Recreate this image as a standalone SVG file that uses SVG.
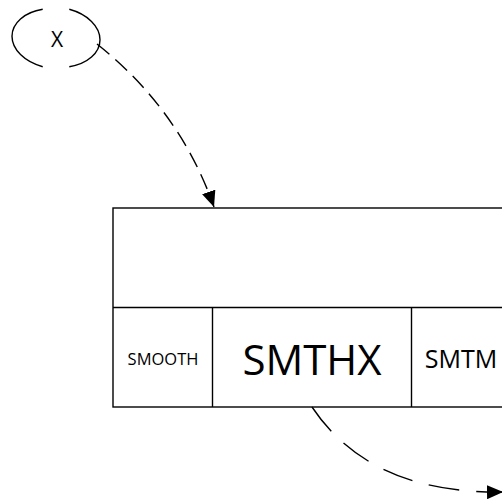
<svg xmlns="http://www.w3.org/2000/svg" width="502" height="501" viewBox="0 0 502 501">
<style>
.s{fill:none;stroke:#000;stroke-width:1.4}
.c1{fill:none;stroke:#000;stroke-width:1.4;stroke-dasharray:16 8}
.c2{fill:none;stroke:#000;stroke-width:1.4;stroke-dasharray:31 17}
text{font-family:"Open Sans","Liberation Sans",sans-serif;fill:#000;text-anchor:middle;dominant-baseline:central}
</style>
<defs>
<marker id="a" viewBox="0 0 16 14" refX="16" refY="7" markerWidth="16" markerHeight="14" markerUnits="userSpaceOnUse" orient="auto">
<path d="M0,0 L16,7 L0,14 Z" fill="#000"/>
</marker>
</defs>
<rect width="502" height="501" fill="#fff"/>
<g id="nodeX">
<path class="s" d="M42.7 9.3 A44 30 6 0 0 42.7 66.7"/>
<path class="s" d="M69.3 9.3 A44 30 6 0 1 69.3 66.7"/>
<text x="57" y="39" font-size="21">X</text>
</g>
<g id="block">
<rect class="s" x="113" y="208" width="400" height="199"/>
<line class="s" x1="113" y1="307.5" x2="513" y2="307.5"/>
<line class="s" x1="212.5" y1="307.5" x2="212.5" y2="407"/>
<line class="s" x1="411.5" y1="307.5" x2="411.5" y2="407"/>
<text x="163" y="358" font-size="16.5">SMOOTH</text>
<text x="312" y="358" font-size="42">SMTHX</text>
<text x="461" y="358" font-size="25">SMTM</text>
</g>
<g id="connectors">
<path class="c1" d="M97 44 Q180 110 214 207" marker-end="url(#a)"/>
<path class="c2" d="M312 407 Q370 494 503 492" marker-end="url(#a)"/>
</g>
</svg>
